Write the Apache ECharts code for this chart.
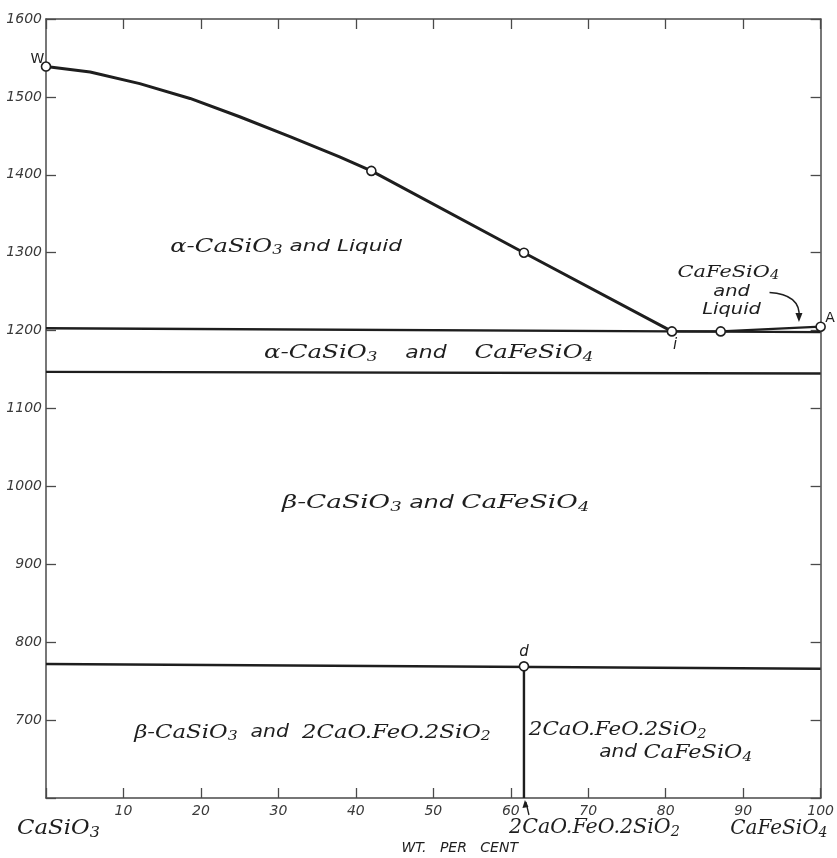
<!DOCTYPE html>
<html>
<head>
<meta charset="utf-8">
<script src="https://cdn.jsdelivr.net/npm/echarts@6/dist/echarts.min.js"></script>
<style>
html,body{margin:0;padding:0;background:#fff;}
#chart{width:837px;height:858px;}
</style>
</head>
<body>
<div id="chart"></div>
<script>
// ---- data (wt. per cent, temperature °C) ----
const liquidusCaSiO3 = [[0,1539],[5.7,1532],[12.1,1517],[18.6,1498],[25,1474.5],[31.5,1449],[37.9,1423],[42,1405],[61.7,1300],[80.8,1199]];
const liquidusCaFeSiO4 = [[80.8,1199],[87.1,1199],[100,1205]];
const eutecticLine = [[0,1203],[100,1198]];
const inversionLine = [[0,1147],[100,1145]];
const dissociationLine = [[0,772],[100,766]];
const compoundLine = [[61.7,769],[61.7,600]];
const observedPoints = [[0,1539],[42,1405],[61.7,1300],[80.8,1199],[87.1,1199],[100,1205],[61.7,769]];
const xTickLabels = [10,20,30,40,50,60,70,80,90,100];
const yTickLabels = [700,800,900,1000,1100,1200,1300,1400,1500,1600];

// text labels in data coordinates
const regionLabels = [
  {x:31.0, y:1307, size:18, sx:1.35, text:'{f|α-CaSiO}{s|3}{a| and Liquid}'},
  {x:49.4, y:1171, size:19, sx:1.29, text:'{f|α-CaSiO}{s|3}{a|    and    }{f|CaFeSiO}{s|4}'},
  {x:50.3, y:978,  size:19, sx:1.39, text:'{f|β-CaSiO}{s|3}{a| and }{f|CaFeSiO}{s|4}'},
  {x:34.4, y:684,  size:19, sx:1.2,  text:'{f|β-CaSiO}{s|3}{a|  and  }{f|2CaO.FeO.2SiO}{s|2}'},
  {x:73.8, y:687,  size:19, sx:1.13, text:'{f|2CaO.FeO.2SiO}{s|2}'},
  {x:81.3, y:658,  size:19, sx:1.18, text:'{a|and }{f|CaFeSiO}{s|4}'},
  {x:88.1, y:1275, size:17, sx:1.23, text:'{f|CaFeSiO}{s|4}'},
  {x:88.5, y:1250, size:17, sx:1.3,  text:'{a|and}'},
  {x:88.5, y:1226, size:17, sx:1.3,  text:'{a|Liquid}'}
];
const pointLabels = [
  {x:-1.1, y:1548, text:'W'},
  {x:101.2, y:1216, text:'A'},
  {x:81.2, y:1181, text:'i'},
  {x:61.7, y:787, text:'d'}
];
const axisNameLabels = [
  {x:1.6,  y:561, size:20, sx:1.14, text:'{f|CaSiO}{s|3}'},
  {x:70.8, y:562, size:20, sx:1.03, text:'{f|2CaO.FeO.2SiO}{s|2}'},
  {x:94.6, y:561, size:20, sx:1.0,  text:'{f|CaFeSiO}{s|4}'}
];
const axisTitle = {x:53.4, y:535, text:'WT.   PER   CENT'};
const curvedArrow = {from:[93.4,1249], to:[97.2,1211]};
const compoundArrow = {to:[61.7,600]};

const INK = '#1e1e1e';
const AXIS = '#4a4a4a';

function rich(size){
  return {
    f:{fontFamily:'DejaVu Serif', fontStyle:'italic', fontSize:size, color:INK, lineHeight:size+6},
    s:{fontFamily:'DejaVu Serif', fontStyle:'italic', fontSize:Math.round(size*0.68), color:INK, padding:[Math.round(size*0.45),0,0,0], lineHeight:size+6},
    a:{fontFamily:'DejaVu Sans', fontStyle:'italic', fontSize:size-2, color:INK, lineHeight:size+6}
  };
}

const chart = echarts.init(document.getElementById('chart'), null, {renderer:'canvas'});
const axisLabelStyle = {fontFamily:'DejaVu Sans', fontStyle:'italic', fontSize:14, color:'#3a3a3a'};

function lineSeries(data, width){
  return {type:'line', data:data, symbol:'none', silent:true,
    lineStyle:{color:INK, width:width}, z:3};
}
function axisLine(){ return {show:true, onZero:false, lineStyle:{color:AXIS, width:1.5}}; }
function axisTick(){ return {show:true, inside:true, length:10, lineStyle:{color:AXIS, width:1.3}}; }

chart.setOption({
  animation:false,
  backgroundColor:'#ffffff',
  grid:{left:46, right:16, top:19, bottom:60},
  xAxis:[
    {type:'value', position:'bottom', min:0, max:100, interval:10,
     axisLine:axisLine(), axisTick:axisTick(),
     axisLabel:Object.assign({margin:6, formatter:v=> xTickLabels.indexOf(v)>=0 ? String(v) : ''}, axisLabelStyle),
     splitLine:{show:false}},
    {type:'value', position:'top', min:0, max:100, interval:10,
     axisLine:axisLine(), axisTick:axisTick(),
     axisLabel:{show:false}, splitLine:{show:false}}
  ],
  yAxis:[
    {type:'value', position:'left', min:600, max:1600, interval:100,
     axisLine:axisLine(), axisTick:axisTick(),
     axisLabel:Object.assign({margin:4, formatter:v=> yTickLabels.indexOf(v)>=0 ? String(v) : ''}, axisLabelStyle),
     splitLine:{show:false}},
    {type:'value', position:'right', min:600, max:1600, interval:100,
     axisLine:axisLine(), axisTick:axisTick(),
     axisLabel:{show:false}, splitLine:{show:false}}
  ],
  series:[
    lineSeries(liquidusCaSiO3, 3),
    lineSeries(liquidusCaFeSiO4, 2.2),
    lineSeries(eutecticLine, 2.4),
    lineSeries(inversionLine, 2.4),
    lineSeries(dissociationLine, 2.4),
    lineSeries(compoundLine, 2.4),
    {type:'scatter', data:observedPoints, symbol:'circle', symbolSize:9, clip:false, silent:true,
     itemStyle:{color:'#ffffff', borderColor:INK, borderWidth:1.6, opacity:1}, z:5}
  ]
});

function px(p){ return chart.convertToPixel({xAxisIndex:0, yAxisIndex:0}, p); }

const graphics = [];
regionLabels.concat(axisNameLabels).forEach(function(l){
  const p = px([l.x, l.y]);
  graphics.push({type:'text', x:p[0], y:p[1], scaleX:l.sx, z:10, silent:true,
    style:{text:l.text, rich:rich(l.size), align:'center', verticalAlign:'middle', fill:INK}});
});
(function(){
  const p = px([axisTitle.x, axisTitle.y]);
  graphics.push({type:'text', x:p[0], y:p[1], z:10, silent:true,
    style:{text:axisTitle.text, fontFamily:'DejaVu Sans', fontStyle:'italic', fontSize:14,
      fill:INK, align:'center', verticalAlign:'middle'}});
})();
pointLabels.forEach(function(l){
  const upright = (l.text==='W'||l.text==='A');
  const p = px([l.x, l.y]);
  graphics.push({type:'text', x:p[0], y:p[1], z:10, silent:true,
    style:{text:l.text, fontFamily:'DejaVu Sans', fontStyle:upright?'normal':'italic',
      fontSize:upright?14:15, fill:INK, align:'center', verticalAlign:'middle'}});
});
(function(){
  // curved arrow pointing to the narrow CaFeSiO4 + Liquid field
  const a = px(curvedArrow.from), b = px(curvedArrow.to);
  graphics.push({type:'bezierCurve', z:10, silent:true,
    shape:{x1:a[0], y1:a[1], cpx1:a[0]+20, cpy1:a[1]+1, cpx2:b[0]+2, cpy2:b[1]-20, x2:b[0], y2:b[1]-4},
    style:{stroke:INK, lineWidth:1.5, fill:null}});
  graphics.push({type:'polygon', z:10, silent:true,
    shape:{points:[[b[0],b[1]],[b[0]-3.5,b[1]-9],[b[0]+3.5,b[1]-9]]},
    style:{fill:INK}});
  // small arrow from the compound name up to its composition
  const t = px(compoundArrow.to);
  graphics.push({type:'line', z:10, silent:true,
    shape:{x1:t[0]+2, y1:t[1]+4, x2:t[0]+5, y2:t[1]+17}, style:{stroke:INK, lineWidth:1.3}});
  graphics.push({type:'polygon', z:10, silent:true,
    shape:{points:[[t[0]+1,t[1]+2],[t[0]-1.5,t[1]+10],[t[0]+4.5,t[1]+9]]}, style:{fill:INK}});
})();
chart.setOption({graphic:graphics});
</script>
</body>
</html>
